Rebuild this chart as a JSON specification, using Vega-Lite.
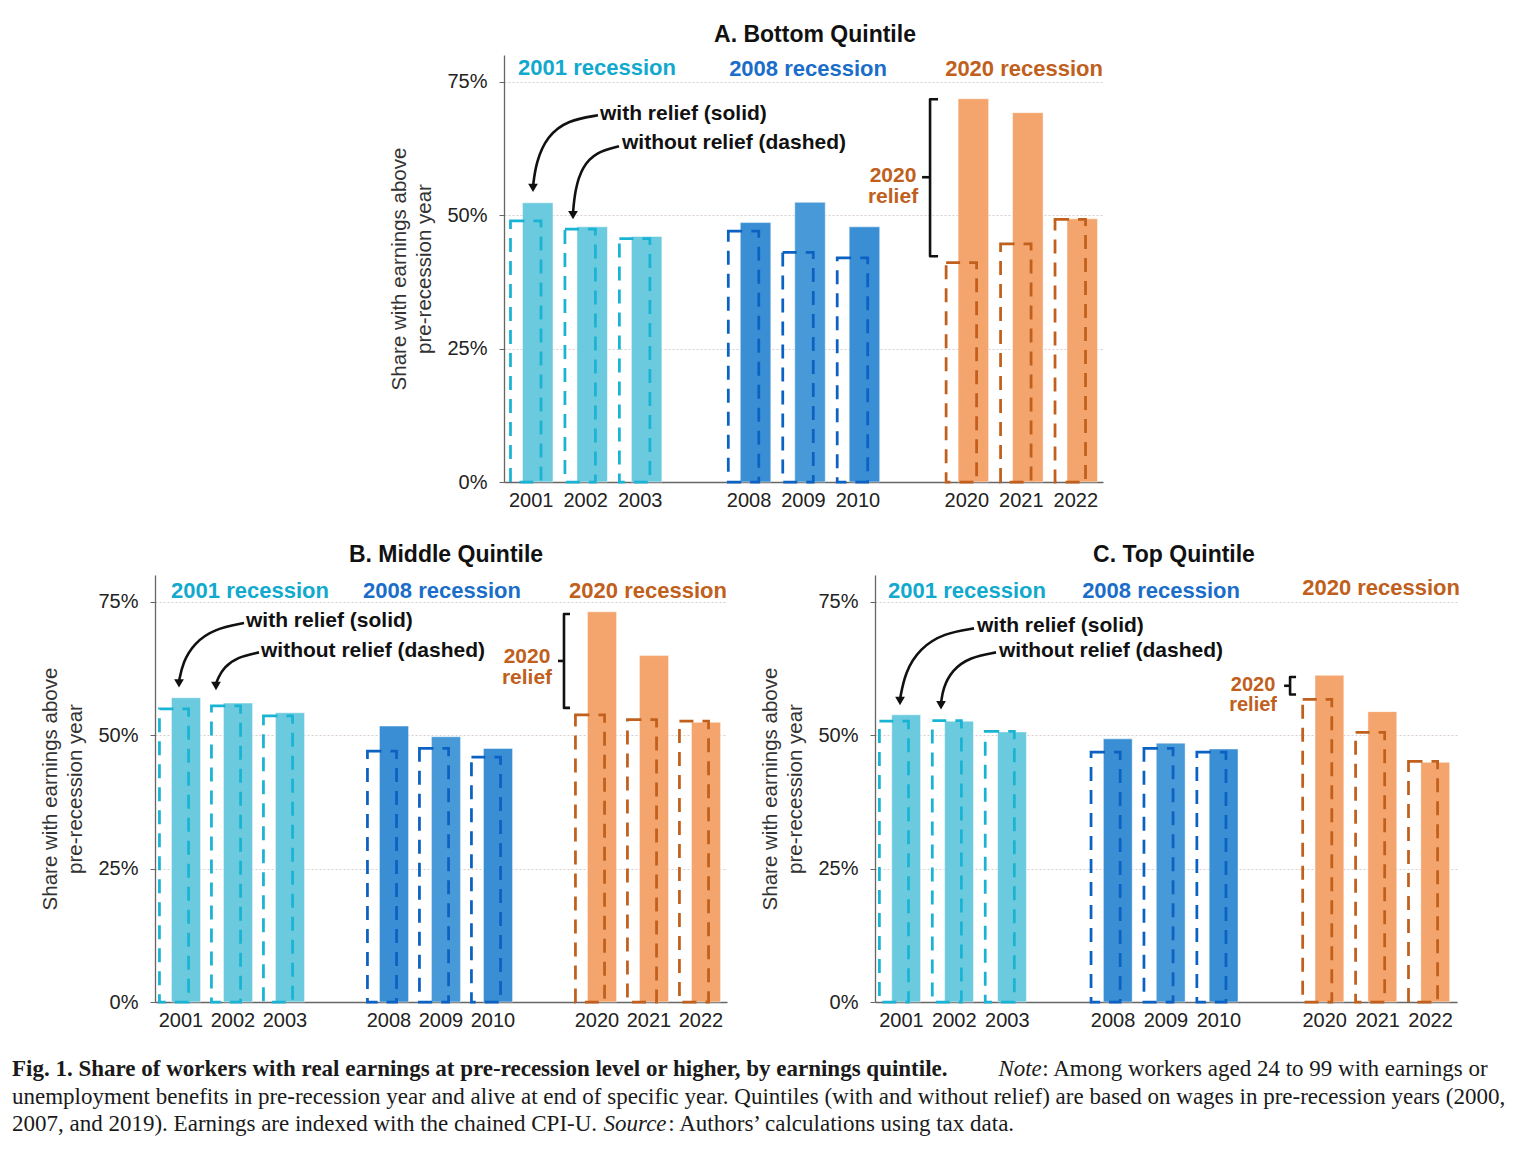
{
  "$schema": "https://vega.github.io/schema/vega-lite/v6.json",
  "background": "white",
  "padding": {"left": 12, "top": 0, "right": 0, "bottom": 0},
  "columns": 3,
  "spacing": 0,
  "bounds": "flush",
  "align": "each",
  "config": {
    "view": {"stroke": null},
    "font": "Liberation Sans",
    "axis": {"labelFont": "Liberation Sans", "titleFont": "Liberation Sans"},
    "title": {"font": "Liberation Sans"},
    "text": {"font": "Liberation Sans"}
  },
  "datasets": {
    "bars": [
      {"panel": "A", "year": "2001", "grp": "2001", "with": 52.3, "without": 48.9},
      {"panel": "A", "year": "2002", "grp": "2001", "with": 47.8, "without": 47.4},
      {"panel": "A", "year": "2003", "grp": "2001", "with": 46.0, "without": 45.6},
      {"panel": "A", "year": "2008", "grp": "2008", "with": 48.6, "without": 47.0},
      {"panel": "A", "year": "2009", "grp": "2008", "with": 52.4, "without": 43.0},
      {"panel": "A", "year": "2010", "grp": "2008", "with": 47.8, "without": 42.0},
      {"panel": "A", "year": "2020", "grp": "2020", "with": 71.8, "without": 41.1},
      {"panel": "A", "year": "2021", "grp": "2020", "with": 69.2, "without": 44.6},
      {"panel": "A", "year": "2022", "grp": "2020", "with": 49.3, "without": 49.2},
      {"panel": "B", "year": "2001", "grp": "2001", "with": 57.0, "without": 54.9},
      {"panel": "B", "year": "2002", "grp": "2001", "with": 56.0, "without": 55.5},
      {"panel": "B", "year": "2003", "grp": "2001", "with": 54.2, "without": 53.6},
      {"panel": "B", "year": "2008", "grp": "2008", "with": 51.7, "without": 47.0},
      {"panel": "B", "year": "2009", "grp": "2008", "with": 49.7, "without": 47.5},
      {"panel": "B", "year": "2010", "grp": "2008", "with": 47.5, "without": 45.9},
      {"panel": "B", "year": "2020", "grp": "2020", "with": 73.1, "without": 53.8},
      {"panel": "B", "year": "2021", "grp": "2020", "with": 64.9, "without": 52.9},
      {"panel": "B", "year": "2022", "grp": "2020", "with": 52.4, "without": 52.6},
      {"panel": "C", "year": "2001", "grp": "2001", "with": 53.8, "without": 52.6},
      {"panel": "C", "year": "2002", "grp": "2001", "with": 52.6, "without": 52.7},
      {"panel": "C", "year": "2003", "grp": "2001", "with": 50.6, "without": 50.7},
      {"panel": "C", "year": "2008", "grp": "2008", "with": 49.3, "without": 46.8},
      {"panel": "C", "year": "2009", "grp": "2008", "with": 48.5, "without": 47.5},
      {"panel": "C", "year": "2010", "grp": "2008", "with": 47.4, "without": 46.8},
      {"panel": "C", "year": "2020", "grp": "2020", "with": 61.2, "without": 56.7},
      {"panel": "C", "year": "2021", "grp": "2020", "with": 54.4, "without": 50.5},
      {"panel": "C", "year": "2022", "grp": "2020", "with": 44.9, "without": 45.1}
    ],
    "groups": [
      {"panel": "A", "grp": "2001", "label": "2001 recession", "ux": 1.708, "uy": 77.6},
      {"panel": "A", "grp": "2008", "label": "2008 recession", "ux": 5.583, "uy": 77.3},
      {"panel": "A", "grp": "2020", "label": "2020 recession", "ux": 9.55, "uy": 77.3},
      {"panel": "B", "grp": "2001", "label": "2001 recession", "ux": 1.827, "uy": 77.0},
      {"panel": "B", "grp": "2008", "label": "2008 recession", "ux": 5.519, "uy": 77.0},
      {"panel": "B", "grp": "2020", "label": "2020 recession", "ux": 9.481, "uy": 77.0},
      {"panel": "C", "grp": "2001", "label": "2001 recession", "ux": 1.739, "uy": 77.0},
      {"panel": "C", "grp": "2008", "label": "2008 recession", "ux": 5.406, "uy": 77.0},
      {"panel": "C", "grp": "2020", "label": "2020 recession", "ux": 9.565, "uy": 77.6}
    ],
    "notes": [
      {"panel": "A", "label": "with relief (solid)", "ux": 1.763, "uy": 68.9},
      {"panel": "A", "label": "without relief (dashed)", "ux": 2.167, "uy": 63.5},
      {"panel": "B", "label": "with relief (solid)", "ux": 1.75, "uy": 71.3},
      {"panel": "B", "label": "without relief (dashed)", "ux": 2.038, "uy": 65.7},
      {"panel": "C", "label": "with relief (solid)", "ux": 1.928, "uy": 70.4},
      {"panel": "C", "label": "without relief (dashed)", "ux": 2.344, "uy": 65.7}
    ],
    "relief": [
      {"panel": "A", "label": "2020\nrelief", "ux": 7.144, "uy": 57.4},
      {"panel": "B", "label": "2020\nrelief", "ux": 7.154, "uy": 64.7},
      {"panel": "C", "label": "2020\nrelief", "ux": 7.146, "uy": 59.3}
    ],
    "arrows": [
      {"panel": "A", "arrow": 1, "i": 1, "ux": 1.726, "uy": 68.7},
      {"panel": "A", "arrow": 1, "i": 2, "ux": 1.175, "uy": 67.8},
      {"panel": "A", "arrow": 1, "i": 3, "ux": 0.79, "uy": 64.8},
      {"panel": "A", "arrow": 1, "i": 4, "ux": 0.588, "uy": 59.9},
      {"panel": "A", "arrow": 1, "i": 5, "ux": 0.533, "uy": 55.4},
      {"panel": "A", "arrow": 2, "i": 1, "ux": 2.112, "uy": 62.9},
      {"panel": "A", "arrow": 2, "i": 2, "ux": 1.69, "uy": 61.8},
      {"panel": "A", "arrow": 2, "i": 3, "ux": 1.432, "uy": 59.0},
      {"panel": "A", "arrow": 2, "i": 4, "ux": 1.304, "uy": 54.7},
      {"panel": "A", "arrow": 2, "i": 5, "ux": 1.267, "uy": 50.4},
      {"panel": "B", "arrow": 1, "i": 1, "ux": 1.712, "uy": 71.0},
      {"panel": "B", "arrow": 1, "i": 2, "ux": 1.135, "uy": 69.9},
      {"panel": "B", "arrow": 1, "i": 3, "ux": 0.75, "uy": 67.2},
      {"panel": "B", "arrow": 1, "i": 4, "ux": 0.538, "uy": 63.7},
      {"panel": "B", "arrow": 1, "i": 5, "ux": 0.462, "uy": 60.1},
      {"panel": "B", "arrow": 2, "i": 1, "ux": 2.0, "uy": 65.5},
      {"panel": "B", "arrow": 2, "i": 2, "ux": 1.577, "uy": 64.6},
      {"panel": "B", "arrow": 2, "i": 3, "ux": 1.327, "uy": 62.7},
      {"panel": "B", "arrow": 2, "i": 4, "ux": 1.212, "uy": 60.7},
      {"panel": "B", "arrow": 2, "i": 5, "ux": 1.173, "uy": 59.6},
      {"panel": "C", "arrow": 1, "i": 1, "ux": 1.871, "uy": 70.0},
      {"panel": "C", "arrow": 1, "i": 2, "ux": 1.304, "uy": 69.1},
      {"panel": "C", "arrow": 1, "i": 3, "ux": 0.851, "uy": 66.3},
      {"panel": "C", "arrow": 1, "i": 4, "ux": 0.567, "uy": 61.8},
      {"panel": "C", "arrow": 1, "i": 5, "ux": 0.473, "uy": 56.7},
      {"panel": "C", "arrow": 2, "i": 1, "ux": 2.287, "uy": 65.5},
      {"panel": "C", "arrow": 2, "i": 2, "ux": 1.796, "uy": 64.6},
      {"panel": "C", "arrow": 2, "i": 3, "ux": 1.456, "uy": 62.2},
      {"panel": "C", "arrow": 2, "i": 4, "ux": 1.285, "uy": 58.8},
      {"panel": "C", "arrow": 2, "i": 5, "ux": 1.248, "uy": 56.0}
    ],
    "heads": [
      {"panel": "A", "ux": 0.533, "uy": 55.1},
      {"panel": "A", "ux": 1.267, "uy": 50.0},
      {"panel": "B", "ux": 0.462, "uy": 59.7},
      {"panel": "B", "ux": 1.173, "uy": 59.2},
      {"panel": "C", "ux": 0.473, "uy": 56.4},
      {"panel": "C", "ux": 1.248, "uy": 55.6}
    ],
    "brackets": [
      {"panel": "A", "seg": "b", "i": 1, "ux": 7.971, "uy": 71.7},
      {"panel": "A", "seg": "b", "i": 2, "ux": 7.824, "uy": 71.7},
      {"panel": "A", "seg": "b", "i": 3, "ux": 7.824, "uy": 42.3},
      {"panel": "A", "seg": "b", "i": 4, "ux": 7.971, "uy": 42.3},
      {"panel": "A", "seg": "n", "i": 1, "ux": 7.824, "uy": 57.1},
      {"panel": "A", "seg": "n", "i": 2, "ux": 7.677, "uy": 57.1},
      {"panel": "B", "seg": "b", "i": 1, "ux": 7.981, "uy": 72.7},
      {"panel": "B", "seg": "b", "i": 2, "ux": 7.865, "uy": 72.7},
      {"panel": "B", "seg": "b", "i": 3, "ux": 7.865, "uy": 55.1},
      {"panel": "B", "seg": "b", "i": 4, "ux": 7.981, "uy": 55.1},
      {"panel": "B", "seg": "n", "i": 1, "ux": 7.865, "uy": 63.9},
      {"panel": "B", "seg": "n", "i": 2, "ux": 7.75, "uy": 63.9},
      {"panel": "C", "seg": "b", "i": 1, "ux": 7.958, "uy": 60.9},
      {"panel": "C", "seg": "b", "i": 2, "ux": 7.845, "uy": 60.9},
      {"panel": "C", "seg": "b", "i": 3, "ux": 7.845, "uy": 57.6},
      {"panel": "C", "seg": "b", "i": 4, "ux": 7.958, "uy": 57.6},
      {"panel": "C", "seg": "n", "i": 1, "ux": 7.845, "uy": 59.25},
      {"panel": "C", "seg": "n", "i": 2, "ux": 7.732, "uy": 59.25}
    ],
    "caption": [
      {"line": 1, "part": "lead", "at": 0, "text": "Fig. 1. Share of workers with real earnings at pre-recession level or higher, by earnings quintile."},
      {"line": 1, "part": "label", "at": 0.662, "text": "Note"},
      {"line": 1, "part": "body", "at": 0.6915, "text": ": Among workers aged 24 to 99 with earnings or"},
      {"line": 2, "part": "body", "at": 0, "text": "unemployment benefits in pre-recession year and alive at end of specific year. Quintiles (with and without relief) are based on wages in pre-recession years (2000,"},
      {"line": 3, "part": "body", "at": 0, "text": "2007, and 2019). Earnings are indexed with the chained CPI-U."},
      {"line": 3, "part": "label", "at": 0.397, "text": "Source"},
      {"line": 3, "part": "body", "at": 0.4405, "text": ": Authors’ calculations using tax data."}
    ]
  },
  "concat": [
    {"width": 1, "height": 55, "data": {"values": []}, "mark": {"type": "point", "opacity": 0}},
    {"width": 1, "height": 55, "data": {"values": []}, "mark": {"type": "point", "opacity": 0}},
    {"width": 1, "height": 55, "data": {"values": []}, "mark": {"type": "point", "opacity": 0}},

    {"width": 1, "height": 427, "data": {"values": []}, "mark": {"type": "point", "opacity": 0}},
    {
      "width": 148, "height": 427,
      "title": {"text": "A. Bottom Quintile", "fontSize": 23, "fontWeight": "bold", "color": "#111", "frame": "group", "anchor": "middle", "baseline": "alphabetic", "offset": -10, "dx": 14},
      "layer": [
        {
          "data": {"name": "bars"},
          "transform": [{"filter": "datum.panel == 'A'"}],
          "layer": [
            {
              "mark": {"type": "bar", "width": {"band": 0.56}, "xOffset": 6.5, "stroke": "#ffffff", "strokeOpacity": 0.45, "strokeWidth": 1},
              "encoding": {
                "x": {"field": "year", "type": "nominal", "scale": {"domain": ["2001","2002","2003","g1","2008","2009","2010","g2","2020","2021","2022"], "range": [-223, 376], "paddingInner": 0, "paddingOuter": 0},
                      "axis": {"title": null, "ticks": false, "labelAngle": 0, "labelFontSize": 20, "labelColor": "#222", "labelPadding": 8, "domainColor": "#666", "domainWidth": 1.5, "grid": false, "labelExpr": "datum.label == 'g1' || datum.label == 'g2' ? '' : datum.label"}},
                "y": {"field": "with", "type": "quantitative", "scale": {"domain": [0, 80], "nice": false},
                      "axis": {"offset": 223, "title": ["Share with earnings above", "pre-recession year"], "titleFontSize": 20.5, "titleFontWeight": "normal", "titleColor": "#333", "titleLineHeight": 25, "titlePadding": 12, "values": [0, 25, 50, 75], "labelExpr": "datum.value + '%'", "labelFontSize": 20, "labelColor": "#222", "labelPadding": 12, "tickSize": 5, "tickColor": "#666", "domainColor": "#666", "domainWidth": 1.3, "grid": true, "gridColor": "#d9cccc", "gridDash": [2, 2]}},
                "fill": {"field": "year", "type": "nominal", "scale": {"domain": ["2001","2002","2003","2008","2009","2010","2020","2021","2022"], "range": ["#6ccadf","#6ccadf","#6ccadf","#3a8fd4","#4899d8","#3a8fd4","#f4a46d","#f4a46d","#f4a46d"]}, "legend": null}
              }
            },
            {
              "mark": {"type": "bar", "width": {"band": 0.56}, "xOffset": -5.5, "filled": false, "strokeWidth": 2.75, "strokeDash": [14, 9]},
              "encoding": {
                "x": {"field": "year", "type": "nominal"},
                "y": {"field": "without", "type": "quantitative"},
                "stroke": {"field": "grp", "type": "nominal", "scale": {"domain": ["2001","2008","2020"], "range": ["#19b4d4","#0b62c3","#c0601c"]}, "legend": null}
              }
            }
          ]
        },
        {
          "layer": [
            {
              "data": {"name": "groups"}, "transform": [{"filter": "datum.panel == 'A'"}],
              "mark": {"type": "text", "align": "center", "baseline": "middle", "fontSize": 22, "fontWeight": "bold"},
              "encoding": {
                "x": {"field": "ux", "type": "quantitative", "scale": {"domain": [0, 11], "range": [-223, 376], "nice": false, "zero": false}, "axis": null},
                "y": {"field": "uy", "type": "quantitative"},
                "text": {"field": "label"},
                "color": {"field": "grp", "type": "nominal", "scale": {"domain": ["2001","2008","2020"], "range": ["#11a9cd","#1a6dc9","#c0601c"]}, "legend": null}
              }
            },
            {
              "data": {"name": "notes"}, "transform": [{"filter": "datum.panel == 'A'"}],
              "mark": {"type": "text", "align": "left", "baseline": "middle", "fontSize": 21, "fontWeight": "bold", "color": "#111"},
              "encoding": {
                "x": {"field": "ux", "type": "quantitative", "axis": null},
                "y": {"field": "uy", "type": "quantitative"},
                "text": {"field": "label"}
              }
            },
            {
              "data": {"name": "relief"}, "transform": [{"filter": "datum.panel == 'A'"}],
              "mark": {"type": "text", "align": "center", "baseline": "middle", "fontSize": 21, "fontWeight": "bold", "color": "#c0601c", "lineBreak": "\n", "lineHeight": 21},
              "encoding": {
                "x": {"field": "ux", "type": "quantitative", "axis": null},
                "y": {"field": "uy", "type": "quantitative"},
                "text": {"field": "label"}
              }
            },
            {
              "data": {"name": "arrows"}, "transform": [{"filter": "datum.panel == 'A'"}],
              "mark": {"type": "line", "interpolate": "basis", "color": "#111", "strokeWidth": 2.6},
              "encoding": {
                "x": {"field": "ux", "type": "quantitative", "axis": null},
                "y": {"field": "uy", "type": "quantitative"},
                "detail": {"field": "arrow"},
                "order": {"field": "i", "type": "quantitative"}
              }
            },
            {
              "data": {"name": "heads"}, "transform": [{"filter": "datum.panel == 'A'"}],
              "mark": {"type": "point", "shape": "triangle-down", "filled": true, "size": 95, "color": "#111", "opacity": 1},
              "encoding": {
                "x": {"field": "ux", "type": "quantitative", "axis": null},
                "y": {"field": "uy", "type": "quantitative"}
              }
            },
            {
              "data": {"name": "brackets"}, "transform": [{"filter": "datum.panel == 'A'"}],
              "mark": {"type": "line", "color": "#111", "strokeWidth": 2.6, "strokeJoin": "round"},
              "encoding": {
                "x": {"field": "ux", "type": "quantitative", "axis": null},
                "y": {"field": "uy", "type": "quantitative"},
                "detail": {"field": "seg"},
                "order": {"field": "i", "type": "quantitative"}
              }
            }
          ]
        }
      ],
      "resolve": {"scale": {"x": "independent"}}
    },
    {"width": 1, "height": 427, "data": {"values": []}, "mark": {"type": "point", "opacity": 0}},

    {"width": 1, "height": 93, "data": {"values": []}, "mark": {"type": "point", "opacity": 0}},
    {"width": 1, "height": 93, "data": {"values": []}, "mark": {"type": "point", "opacity": 0}},
    {"width": 1, "height": 93, "data": {"values": []}, "mark": {"type": "point", "opacity": 0}},

    {
      "width": 572, "height": 427,
      "title": {"text": "B. Middle Quintile", "fontSize": 23, "fontWeight": "bold", "color": "#111", "frame": "group", "anchor": "middle", "baseline": "alphabetic", "offset": -10, "dx": 5},
      "layer": [
        {
          "data": {"name": "bars"},
          "transform": [{"filter": "datum.panel == 'B'"}],
          "layer": [
            {
              "mark": {"type": "bar", "width": {"band": 0.56}, "xOffset": 5, "stroke": "#ffffff", "strokeOpacity": 0.45, "strokeWidth": 1},
              "encoding": {
                "x": {"field": "year", "type": "nominal", "scale": {"domain": ["2001","2002","2003","g1","2008","2009","2010","g2","2020","2021","2022"], "paddingInner": 0, "paddingOuter": 0},
                      "axis": {"title": null, "ticks": false, "labelAngle": 0, "labelFontSize": 20, "labelColor": "#222", "labelPadding": 8, "domainColor": "#666", "domainWidth": 1.5, "grid": false, "labelExpr": "datum.label == 'g1' || datum.label == 'g2' ? '' : datum.label"}},
                "y": {"field": "with", "type": "quantitative", "scale": {"domain": [0, 80], "nice": false},
                      "axis": {"title": ["Share with earnings above", "pre-recession year"], "titleFontSize": 20.5, "titleFontWeight": "normal", "titleColor": "#333", "titleLineHeight": 25, "titlePadding": 12, "values": [0, 25, 50, 75], "labelExpr": "datum.value + '%'", "labelFontSize": 20, "labelColor": "#222", "labelPadding": 12, "tickSize": 5, "tickColor": "#666", "domainColor": "#666", "domainWidth": 1.3, "grid": true, "gridColor": "#d9cccc", "gridDash": [2, 2]}},
                "fill": {"field": "year", "type": "nominal", "scale": {"domain": ["2001","2002","2003","2008","2009","2010","2020","2021","2022"], "range": ["#6ccadf","#6ccadf","#6ccadf","#3a8fd4","#4899d8","#3a8fd4","#f4a46d","#f4a46d","#f4a46d"]}, "legend": null}
              }
            },
            {
              "mark": {"type": "bar", "width": {"band": 0.56}, "xOffset": -7, "filled": false, "strokeWidth": 2.75, "strokeDash": [14, 9]},
              "encoding": {
                "x": {"field": "year", "type": "nominal"},
                "y": {"field": "without", "type": "quantitative"},
                "stroke": {"field": "grp", "type": "nominal", "scale": {"domain": ["2001","2008","2020"], "range": ["#19b4d4","#0b62c3","#c0601c"]}, "legend": null}
              }
            }
          ]
        },
        {
          "layer": [
            {
              "data": {"name": "groups"}, "transform": [{"filter": "datum.panel == 'B'"}],
              "mark": {"type": "text", "align": "center", "baseline": "middle", "fontSize": 22, "fontWeight": "bold"},
              "encoding": {
                "x": {"field": "ux", "type": "quantitative", "scale": {"domain": [0, 11], "nice": false, "zero": false}, "axis": null},
                "y": {"field": "uy", "type": "quantitative"},
                "text": {"field": "label"},
                "color": {"field": "grp", "type": "nominal", "scale": {"domain": ["2001","2008","2020"], "range": ["#11a9cd","#1a6dc9","#c0601c"]}, "legend": null}
              }
            },
            {
              "data": {"name": "notes"}, "transform": [{"filter": "datum.panel == 'B'"}],
              "mark": {"type": "text", "align": "left", "baseline": "middle", "fontSize": 21, "fontWeight": "bold", "color": "#111"},
              "encoding": {
                "x": {"field": "ux", "type": "quantitative", "axis": null},
                "y": {"field": "uy", "type": "quantitative"},
                "text": {"field": "label"}
              }
            },
            {
              "data": {"name": "relief"}, "transform": [{"filter": "datum.panel == 'B'"}],
              "mark": {"type": "text", "align": "center", "baseline": "middle", "fontSize": 21, "fontWeight": "bold", "color": "#c0601c", "lineBreak": "\n", "lineHeight": 21},
              "encoding": {
                "x": {"field": "ux", "type": "quantitative", "axis": null},
                "y": {"field": "uy", "type": "quantitative"},
                "text": {"field": "label"}
              }
            },
            {
              "data": {"name": "arrows"}, "transform": [{"filter": "datum.panel == 'B'"}],
              "mark": {"type": "line", "interpolate": "basis", "color": "#111", "strokeWidth": 2.6},
              "encoding": {
                "x": {"field": "ux", "type": "quantitative", "axis": null},
                "y": {"field": "uy", "type": "quantitative"},
                "detail": {"field": "arrow"},
                "order": {"field": "i", "type": "quantitative"}
              }
            },
            {
              "data": {"name": "heads"}, "transform": [{"filter": "datum.panel == 'B'"}],
              "mark": {"type": "point", "shape": "triangle-down", "filled": true, "size": 95, "color": "#111", "opacity": 1},
              "encoding": {
                "x": {"field": "ux", "type": "quantitative", "axis": null},
                "y": {"field": "uy", "type": "quantitative"}
              }
            },
            {
              "data": {"name": "brackets"}, "transform": [{"filter": "datum.panel == 'B'"}],
              "mark": {"type": "line", "color": "#111", "strokeWidth": 2.6, "strokeJoin": "round"},
              "encoding": {
                "x": {"field": "ux", "type": "quantitative", "axis": null},
                "y": {"field": "uy", "type": "quantitative"},
                "detail": {"field": "seg"},
                "order": {"field": "i", "type": "quantitative"}
              }
            }
          ]
        }
      ],
      "resolve": {"scale": {"x": "independent"}}
    },
    {"width": 148, "height": 427, "data": {"values": []}, "mark": {"type": "point", "opacity": 0}},
    {
      "width": 582, "height": 427,
      "title": {"text": "C. Top Quintile", "fontSize": 23, "fontWeight": "bold", "color": "#111", "frame": "group", "anchor": "middle", "baseline": "alphabetic", "offset": -10, "dx": 8},
      "layer": [
        {
          "data": {"name": "bars"},
          "transform": [{"filter": "datum.panel == 'C'"}],
          "layer": [
            {
              "mark": {"type": "bar", "width": {"band": 0.545}, "xOffset": 4.7, "stroke": "#ffffff", "strokeOpacity": 0.45, "strokeWidth": 1},
              "encoding": {
                "x": {"field": "year", "type": "nominal", "scale": {"domain": ["2001","2002","2003","g1","2008","2009","2010","g2","2020","2021","2022"], "paddingInner": 0, "paddingOuter": 0},
                      "axis": {"title": null, "ticks": false, "labelAngle": 0, "labelFontSize": 20, "labelColor": "#222", "labelPadding": 8, "domainColor": "#666", "domainWidth": 1.5, "grid": false, "labelExpr": "datum.label == 'g1' || datum.label == 'g2' ? '' : datum.label"}},
                "y": {"field": "with", "type": "quantitative", "scale": {"domain": [0, 80], "nice": false},
                      "axis": {"title": ["Share with earnings above", "pre-recession year"], "titleFontSize": 20.5, "titleFontWeight": "normal", "titleColor": "#333", "titleLineHeight": 25, "titlePadding": 12, "values": [0, 25, 50, 75], "labelExpr": "datum.value + '%'", "labelFontSize": 20, "labelColor": "#222", "labelPadding": 12, "tickSize": 5, "tickColor": "#666", "domainColor": "#666", "domainWidth": 1.3, "grid": true, "gridColor": "#d9cccc", "gridDash": [2, 2]}},
                "fill": {"field": "year", "type": "nominal", "scale": {"domain": ["2001","2002","2003","2008","2009","2010","2020","2021","2022"], "range": ["#6ccadf","#6ccadf","#6ccadf","#3a8fd4","#4899d8","#3a8fd4","#f4a46d","#f4a46d","#f4a46d"]}, "legend": null}
              }
            },
            {
              "mark": {"type": "bar", "width": {"band": 0.55}, "xOffset": -7.5, "filled": false, "strokeWidth": 2.75, "strokeDash": [14, 9]},
              "encoding": {
                "x": {"field": "year", "type": "nominal"},
                "y": {"field": "without", "type": "quantitative"},
                "stroke": {"field": "grp", "type": "nominal", "scale": {"domain": ["2001","2008","2020"], "range": ["#19b4d4","#0b62c3","#c0601c"]}, "legend": null}
              }
            }
          ]
        },
        {
          "layer": [
            {
              "data": {"name": "groups"}, "transform": [{"filter": "datum.panel == 'C'"}],
              "mark": {"type": "text", "align": "center", "baseline": "middle", "fontSize": 22, "fontWeight": "bold"},
              "encoding": {
                "x": {"field": "ux", "type": "quantitative", "scale": {"domain": [0, 11], "nice": false, "zero": false}, "axis": null},
                "y": {"field": "uy", "type": "quantitative"},
                "text": {"field": "label"},
                "color": {"field": "grp", "type": "nominal", "scale": {"domain": ["2001","2008","2020"], "range": ["#11a9cd","#1a6dc9","#c0601c"]}, "legend": null}
              }
            },
            {
              "data": {"name": "notes"}, "transform": [{"filter": "datum.panel == 'C'"}],
              "mark": {"type": "text", "align": "left", "baseline": "middle", "fontSize": 21, "fontWeight": "bold", "color": "#111"},
              "encoding": {
                "x": {"field": "ux", "type": "quantitative", "axis": null},
                "y": {"field": "uy", "type": "quantitative"},
                "text": {"field": "label"}
              }
            },
            {
              "data": {"name": "relief"}, "transform": [{"filter": "datum.panel == 'C'"}],
              "mark": {"type": "text", "align": "center", "baseline": "middle", "fontSize": 20, "fontWeight": "bold", "color": "#c0601c", "lineBreak": "\n", "lineHeight": 20},
              "encoding": {
                "x": {"field": "ux", "type": "quantitative", "axis": null},
                "y": {"field": "uy", "type": "quantitative"},
                "text": {"field": "label"}
              }
            },
            {
              "data": {"name": "arrows"}, "transform": [{"filter": "datum.panel == 'C'"}],
              "mark": {"type": "line", "interpolate": "basis", "color": "#111", "strokeWidth": 2.6},
              "encoding": {
                "x": {"field": "ux", "type": "quantitative", "axis": null},
                "y": {"field": "uy", "type": "quantitative"},
                "detail": {"field": "arrow"},
                "order": {"field": "i", "type": "quantitative"}
              }
            },
            {
              "data": {"name": "heads"}, "transform": [{"filter": "datum.panel == 'C'"}],
              "mark": {"type": "point", "shape": "triangle-down", "filled": true, "size": 95, "color": "#111", "opacity": 1},
              "encoding": {
                "x": {"field": "ux", "type": "quantitative", "axis": null},
                "y": {"field": "uy", "type": "quantitative"}
              }
            },
            {
              "data": {"name": "brackets"}, "transform": [{"filter": "datum.panel == 'C'"}],
              "mark": {"type": "line", "color": "#111", "strokeWidth": 2.6, "strokeJoin": "round"},
              "encoding": {
                "x": {"field": "ux", "type": "quantitative", "axis": null},
                "y": {"field": "uy", "type": "quantitative"},
                "detail": {"field": "seg"},
                "order": {"field": "i", "type": "quantitative"}
              }
            }
          ]
        }
      ],
      "resolve": {"scale": {"x": "independent"}}
    },

    {"width": 1, "height": 53, "data": {"values": []}, "mark": {"type": "point", "opacity": 0}},
    {"width": 1, "height": 53, "data": {"values": []}, "mark": {"type": "point", "opacity": 0}},
    {"width": 1, "height": 53, "data": {"values": []}, "mark": {"type": "point", "opacity": 0}},

    {
      "width": 1, "height": 83,
      "data": {"name": "caption"},
      "encoding": {
        "x": {"field": "at", "type": "quantitative", "scale": {"domain": [0, 1], "range": [-143, 1347], "nice": false}, "axis": null},
        "y": {"field": "line", "type": "ordinal", "scale": {"domain": [1, 2, 3], "paddingInner": 0, "paddingOuter": 0}, "axis": null},
        "text": {"field": "text"}
      },
      "layer": [
        {"transform": [{"filter": "datum.part == 'lead'"}], "mark": {"type": "text", "align": "left", "baseline": "middle", "font": "Liberation Serif", "fontSize": 23, "fontWeight": "bold", "color": "#1a1a1a"}},
        {"transform": [{"filter": "datum.part == 'label'"}], "mark": {"type": "text", "align": "left", "baseline": "middle", "font": "Liberation Serif", "fontSize": 23, "fontStyle": "italic", "color": "#1a1a1a"}},
        {"transform": [{"filter": "datum.part == 'body'"}], "mark": {"type": "text", "align": "left", "baseline": "middle", "font": "Liberation Serif", "fontSize": 23, "color": "#1a1a1a"}}
      ]
    },
    {"width": 1, "height": 83, "data": {"values": []}, "mark": {"type": "point", "opacity": 0}},
    {"width": 1, "height": 83, "data": {"values": []}, "mark": {"type": "point", "opacity": 0}}
  ]
}
